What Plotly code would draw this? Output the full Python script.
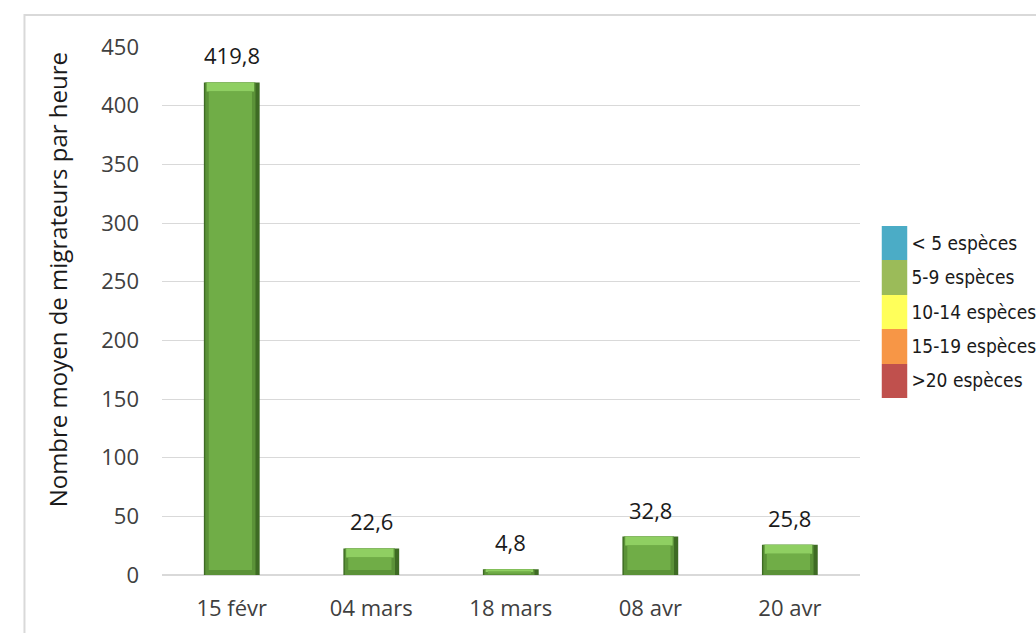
import plotly.graph_objects as go

# Survey dates and mean number of migrating birds per hour
dates = ["15 févr", "04 mars", "18 mars", "08 avr", "20 avr"]
migrants_per_hour = [419.8, 22.6, 4.8, 32.8, 25.8]

# Species-richness classes shown in the colour key
richness_classes = ["< 5 espèces", "5-9 espèces", "10-14 espèces", "15-19 espèces", ">20 espèces"]
richness_colors = ["#4bacc6", "#9bbb59", "#ffff5a", "#f79646", "#c0504d"]

y_ticks = list(range(0, 451, 50))

W, H = 1036, 633
ML, MR, MT, MB = 162, 0, 47, 58
PW, PH = W - ML - MR, H - MT - MB
UNIT_PX = PH / 450.0  # pixels per data unit on the value axis


def px_x(p):
    return (p - ML) / PW


def px_y(p):
    return (H - MB - p) / PH


TXT = "#404040"
FONT = "Open Sans, DejaVu Sans, sans-serif"

fig = go.Figure()

# Bevelled bars: dark body, mid-green sides, light top facet, flat face
fig.add_trace(go.Bar(
    x=dates, y=migrants_per_hour, width=0.4,
    marker=dict(color="#3e6b24", line=dict(width=0)),
    showlegend=False, hoverinfo="skip",
))
fig.add_trace(go.Bar(
    x=dates, y=migrants_per_hour, width=0.36, offset=-0.19,
    marker=dict(color="#5b9238", line=dict(width=0)),
    showlegend=False, hoverinfo="skip",
))
top_facet = [min(9 / UNIT_PX, v * 0.35) for v in migrants_per_hour]
bottom_facet = [min(5 / UNIT_PX, v * 0.2) for v in migrants_per_hour]
fig.add_trace(go.Bar(
    x=dates, y=top_facet,
    base=[v - t for v, t in zip(migrants_per_hour, top_facet)],
    width=0.34, offset=-0.18,
    marker=dict(color="#8fcf62", line=dict(width=0)),
    showlegend=False, hoverinfo="skip",
))
fig.add_trace(go.Bar(
    x=dates, y=[v - t - b for v, t, b in zip(migrants_per_hour, top_facet, bottom_facet)],
    base=bottom_facet, width=0.31, offset=-0.165,
    marker=dict(color="#70ad47", line=dict(width=0)),
    showlegend=False,
))

# Value labels above each bar
for d, v in zip(dates, migrants_per_hour):
    fig.add_annotation(
        x=d, y=v, xref="x", yref="y",
        text=f"{v:.1f}".replace(".", ","),
        showarrow=False, yanchor="bottom", yshift=10,
        font=dict(family=FONT, size=22, color="#1a1a1a"),
    )

# Colour key drawn as a one-column heatmap
n = len(richness_classes)
scale = []
for i, c in enumerate(richness_colors):
    scale.append([i / n, c])
    scale.append([(i + 1) / n, c])
fig.add_trace(go.Heatmap(
    z=[[i] for i in range(n)], y=richness_classes, x=[0],
    zmin=-0.5, zmax=n - 0.5, colorscale=scale, showscale=False,
    xaxis="x2", yaxis="y2", hoverinfo="skip",
))

fig.update_layout(
    width=W, height=H,
    margin=dict(l=ML, r=MR, t=MT, b=MB),
    paper_bgcolor="white", plot_bgcolor="white",
    barmode="overlay", bargap=0.6,
    separators=",.",
    font=dict(family=FONT, color=TXT),
    xaxis=dict(
        domain=[0, px_x(862)], showgrid=False, zeroline=False,
        showline=False, ticks="", tickfont=dict(size=22, color=TXT),
        ticklabelstandoff=18, fixedrange=True,
    ),
    yaxis=dict(
        domain=[0, 1], range=[0, 450], tickvals=y_ticks,
        showgrid=True, gridcolor="#d9d9d9", gridwidth=1.3,
        zeroline=True, zerolinecolor="#d9d9d9", zerolinewidth=1.5,
        showline=False, ticks="", tickfont=dict(size=22, color=TXT),
        ticklabelstandoff=22,
    ),
    xaxis2=dict(
        domain=[px_x(884), px_x(910)], anchor="y2",
        showticklabels=False, showgrid=False, zeroline=False, ticks="",
    ),
    yaxis2=dict(
        domain=[px_y(398), px_y(226)], anchor="x2", side="right",
        autorange="reversed", showgrid=False, zeroline=False, ticks="",
        tickfont=dict(family="Liberation Sans Narrow, DejaVu Sans Condensed, sans-serif",
                      size=19, color="#1a1a1a"),
        ticklabelstandoff=3,
    ),
    shapes=[dict(
        type="rect", xref="paper", yref="paper",
        x0=px_x(24), x1=1.5, y0=-0.5, y1=px_y(15),
        line=dict(color="#d9d9d9", width=2), layer="below",
    )],
)

fig.add_annotation(
    xref="paper", yref="paper", x=px_x(57), y=px_y(280),
    xanchor="center", yanchor="middle",
    text="Nombre moyen de migrateurs par heure", textangle=-90,
    showarrow=False, font=dict(family=FONT, size=24, color="#1a1a1a"),
)

fig.write_html("out.html")
